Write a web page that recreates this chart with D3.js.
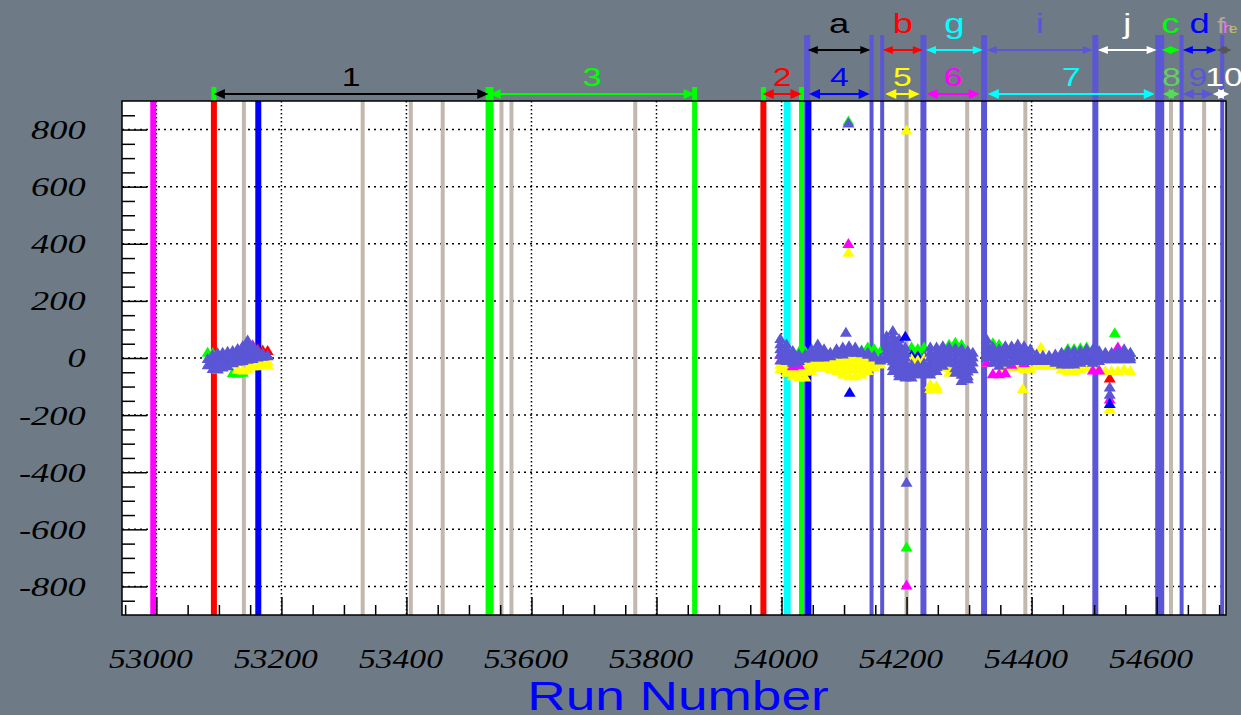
<!DOCTYPE html>
<html>
<head>
<meta charset="utf-8">
<script src="https://cdn.jsdelivr.net/npm/d3@7"></script>
<style>
body { margin: 0; background: #6e7b86; }
svg { display: block; }
</style>
</head>
<body>
<svg id="chart" width="1241" height="715"></svg>
<script>
// ---- data ----
let yTicks = [-800, -600, -400, -200, 0, 200, 400, 600, 800];
let xTicks = [53000, 53200, 53400, 53600, 53800, 54000, 54200, 54400, 54600];

// first block of runs: values seen at each run, per colour
let runsA = [53082, 53090, 53098, 53106, 53114, 53122, 53130, 53138, 53146, 53154, 53162, 53170, 53178];
let slateA = [[0, -22], [14, -5, -20, -35], [20, 2, -15, -35], [22, 5, -12, -30], [25, 8, -8, -25],
    [28, 10, -5, -15], [35, 18, 2, -10], [45, 28, 10, -7], [65, 45, 25, 8, -3], [45, 28, 12, 0],
    [30, 15, 5], [18, 8], [12, 10]];
let greenA = [[22], [20], [-38], [], [], [-50], [-52], [-48], [], [], [2], [], []];
let yellowA = [[], [], [], [], [], [], [-38], [-40], [-35], [-12, -25], [-12, -25], [-10, -22], [-8, -22]];
let magentaA = [[], [], [], [], [], [-12], [], [], [50], [48], [], [], []];
let redA = [[], [], [], [], [], [], [], [], [], [], [35], [30], [28]];
let blueA = [[], [], [], [], [], [], [], [], [], [10], [-10], [], []];

// second block of runs
let runsB = [53998, 54008, 54018, 54028, 54038, 54048, 54058, 54068, 54078, 54088,
    54098, 54108, 54118, 54128, 54138, 54148, 54158, 54168, 54178, 54188,
    54198, 54208, 54218, 54228, 54238, 54248, 54258, 54268, 54278, 54288,
    54298, 54306, 54328, 54338, 54348, 54358, 54368, 54378, 54388, 54398,
    54408, 54418, 54428, 54438, 54448, 54458, 54468, 54478, 54488, 54498,
    54508, 54518, 54528, 54538, 54548, 54558];
let slateB = [
    [70, 52, 34, 16, -5], [51, 34, 17, 0, -7], [28, 10, -13], [16, 0, -7], [16, 2],
    [34, 18, 5], [51, 34, 18, 5], [34, 18, 5], [22, 10], [34, 16],
    [40, 28, 16], [45, 32, 22], [40, 30, 22], [28, 20], [22, 15],
    [11, 5], [0, -5], [80, 62, 45, 28, 12, -1], [98, 80, 62, 45, 28, 10, -8, -25, -42], [69, 52, 35, 18, 0, -18, -35, -50, -60],
    [40, 22, 5, -12, -30, -48, -65], [-20, -35, -50, -65], [-22, -38, -54], [-15, -30, -42], [40, 22, 5, -12, -30, -45, -54],
    [40, 22, 5, -12, -28, -42], [45, 28, 10, -8, -24], [40, 22, 5, -13], [38, 20, 2, -15, -32, -48], [35, 18, 0, -18, -36, -55, -77],
    [28, 10, -8, -26, -44, -60, -71], [22, 5, -12, -36], [69, 52, 35, 18, 5], [42, 25, 8, -13], [34, 17, 0, -24],
    [45, 28, 12, -5, -13], [45, 28, 12, -7], [51, 34, 17, 0, -7], [45, 28, 12, -7], [34, 17, 0, -7],
    [16, 0, -7], [11, 0, -7], [11, 0, -7], [16, 0, -13], [22, 5, -10, -19],
    [28, 10, -5, -19], [28, 10, -5, -19], [28, 10, -5, -13], [34, 17, 0, -7], [34, 17, 0, -13],
    [28, 12, -7], [22, 8, -1], [22, 8, -1], [28, 12, -1], [34, 17, -1], [22, 8, -1]];
let yellowB = [
    [-20, -36], [-25, -48], [-30, -45, -60], [-25, -45, -65], [-20, -45, -65],
    [-15, -30, -42], [-15, -30], [-15, -30], [-5, -20, -36], [0, -20, -42],
    [0, -20, -38, -54], [5, -15, -35, -60], [5, -15, -35, -60], [5, -15, -35, -54], [0, -20, -42],
    [-12, -30], [-19], [], [], [],
    [-5], [0, -5], [-5], [0], [-90, -105],
    [-95, -105], [-30], [-30, -48], [-48], [],
    [], [], [-13], [], [],
    [-30], [-30], [-30], [-36], [-36],
    [-24], [-24], [-24], [-24], [-36],
    [-42], [-42], [-36], [-30], [-30],
    [-36], [-42], [-42], [-42], [-36], [-42]];
let magentaB = [
    [15], [], [-25], [-22], [], [], [], [], [], [],
    [], [], [], [], [], [], [], [], [], [],
    [], [], [], [], [], [], [], [], [], [],
    [], [], [-13], [-53], [-53], [-50], [-20], [], [-15], [],
    [], [], [], [], [], [], [], [], [], [-40],
    [-40], [], [], [40], [], []];
let greenB = [
    [], [], [], [25], [25], [], [], [], [], [],
    [], [], [], [30], [40], [35], [25], [], [], [],
    [30], [40, 20], [35, 15], [40], [], [], [], [50], [57], [50],
    [], [], [], [55], [50], [], [], [], [], [],
    [], [], [], [], [], [35], [35], [38], [40], [],
    [], [], [], [], [], [20]];
let blueB = [
    [], [], [], [], [], [], [], [], [], [],
    [], [], [], [], [], [], [], [], [], [],
    [], [12], [10], [], [], [], [], [], [], [],
    [], [], [], [], [], [], [], [], [], [],
    [], [], [], [], [], [], [], [], [], [],
    [], [], [], [], [], []];
let redB = [
    [], [], [], [], [], [], [], [30], [], [],
    [], [], [], [], [], [], [], [], [], [],
    [], [], [], [], [], [], [], [], [], [],
    [], [], [], [], [], [], [], [], [], [],
    [], [], [], [], [], [], [], [], [], [],
    [], [], [], [], [], []];

// isolated points
let slateOutRuns = [54103, 54107, 54200, 54525, 54525];
let slateOutVals = [92, 825, -433, -100, -125];
let greenOutRuns = [54107, 54200, 54533];
let greenOutVals = [832, -660, 90];
let magentaOutRuns = [54107, 54200, 54525];
let magentaOutVals = [403, -793, -142];
let yellowOutRuns = [54107, 54200, 54386, 54415, 54525];
let yellowOutVals = [372, 800, -105, 40, -175];
let blueOutRuns = [54109, 54198, 54525];
let blueOutVals = [-118, 78, -158];
let redOutRuns = [54525];
let redOutVals = [-68];

// run boundary lines
let tanRuns = [53140, 53330, 53407, 53458, 53552, 53568, 53766, 54200, 54297, 54390, 54623, 54676];
let magentaRuns = [52995];
let greenRuns = [53092, 53533, 53861, 53971, 54032];
let redRuns = [53092, 53971];
let blueRuns = [53163, 54043];
let cyanRuns = [54009];
let slateRuns = [54041, 54144, 54161, 54227, 54324, 54502, 54605, 54640, 54705];

// period arrows
let row1Labels = ['1', '3', '2', '4', '5', '6', '7', '8', '9', '10'];
let row1Start = [53092, 53533, 53970, 54044, 54166, 54232, 54330, 54610, 54642, 54690];
let row1End = [53531, 53861, 54032, 54141, 54221, 54317, 54597, 54637, 54690, 54716];
let row2Labels = ['a', 'b', 'g', 'i', 'j', 'c', 'd', 'e'];
let row2Start = [54042, 54162, 54231, 54328, 54506, 54608, 54642, 54696];
let row2End = [54142, 54226, 54322, 54498, 54600, 54637, 54696, 54720];

// ---- drawing ----
let SLATE = '#5a56d6';
let svg = d3.select('#chart');

let plotLeft = 122, plotRight = 1226, plotTop = 101, plotBottom = 615;

let xScale = d3.scaleLinear().domain([52945, 54711]).range([plotLeft, plotRight]);
let yScale = d3.scaleLinear().domain([-900, 900]).range([plotBottom, plotTop]);

svg.append('rect')
    .attr('width', 1241).attr('height', 715)
    .attr('fill', '#6e7b86');

svg.append('rect')
    .attr('x', plotLeft).attr('y', plotTop)
    .attr('width', plotRight - plotLeft).attr('height', plotBottom - plotTop)
    .attr('fill', '#ffffff');

// Grid
let grid = svg.append('g').attr('id', 'grid');
grid.selectAll('line.gx')
    .data(xTicks)
    .enter().append('line')
    .attr('class', 'gx')
    .attr('x1', d => xScale(d)).attr('x2', d => xScale(d))
    .attr('y1', plotTop).attr('y2', plotBottom)
    .attr('stroke', '#000').attr('stroke-width', 1.5)
    .attr('stroke-dasharray', '1.5,2.5');
grid.selectAll('line.gy')
    .data(yTicks)
    .enter().append('line')
    .attr('class', 'gy')
    .attr('x1', plotLeft).attr('x2', plotRight)
    .attr('y1', d => yScale(d)).attr('y2', d => yScale(d))
    .attr('stroke', '#000').attr('stroke-width', 1.5)
    .attr('stroke-dasharray', '2,4');

// Vertical run lines
function vLines(runs, color, width, top) {
    svg.append('g').selectAll('line')
        .data(runs)
        .enter().append('line')
        .attr('x1', d => xScale(d)).attr('x2', d => xScale(d))
        .attr('y1', top).attr('y2', plotBottom)
        .attr('stroke', color)
        .attr('stroke-width', typeof width === 'function' ? width : () => width);
}
vLines(slateRuns, SLATE, d => (d === 54605 ? 9 : (d === 54144 || d === 54161 || d === 54640 || d === 54705) ? 4 : 6), 35);
vLines(greenRuns, '#00ff00', d => (d === 53533 ? 8 : 5), 87);
vLines(tanRuns, '#c2b8ad', 4, plotTop);
vLines(magentaRuns, '#ff00ff', 6, plotTop);
vLines(redRuns, '#ff0000', 6, plotTop);
vLines(blueRuns, '#0000ff', 6, plotTop);
vLines(cyanRuns, '#00ffff', 7, plotTop);

// Markers: up-triangle centred on its box, like the original plotting tool
let tri = d3.symbol().type({
    draw: function (ctx) {
        ctx.moveTo(0, -5);
        ctx.lineTo(6, 5);
        ctx.lineTo(-6, 5);
        ctx.closePath();
    }
});
function drawPts(pts, color) {
    svg.append('g').selectAll('path')
        .data(pts)
        .enter().append('path')
        .attr('d', tri)
        .attr('transform', d => 'translate(' + xScale(d[0]) + ',' + yScale(d[1]) + ')')
        .attr('fill', color);
}
function columns(runs, cols, color) {
    let pts = [];
    runs.forEach((r, i) => cols[i].forEach(v => pts.push([r, v])));
    drawPts(pts, color);
}
function singles(runs, vals, color) {
    drawPts(runs.map((r, i) => [r, vals[i]]), color);
}
columns(runsA, redA, '#ff0000');
columns(runsB, redB, '#ff0000');
singles(redOutRuns, redOutVals, '#ff0000');
columns(runsA, greenA, '#00ff00');
columns(runsB, greenB, '#00ff00');
singles(greenOutRuns, greenOutVals, '#00ff00');
columns(runsA, blueA, '#0000ff');
columns(runsB, blueB, '#0000ff');
columns(runsA, yellowA, '#ffff00');
columns(runsB, yellowB, '#ffff00');
singles(yellowOutRuns, yellowOutVals, '#ffff00');
columns(runsA, magentaA, '#ff00ff');
columns(runsB, magentaB, '#ff00ff');
singles(magentaOutRuns, magentaOutVals, '#ff00ff');
columns(runsA, slateA, SLATE);
columns(runsB, slateB, SLATE);
singles(slateOutRuns, slateOutVals, SLATE);
singles(blueOutRuns, blueOutVals, '#0000ff');

// Frame
svg.append('rect')
    .attr('x', plotLeft).attr('y', plotTop)
    .attr('width', plotRight - plotLeft).attr('height', plotBottom - plotTop)
    .attr('fill', 'none').attr('stroke', '#000').attr('stroke-width', 1.5);

// Axes
let minorY = d3.range(-850, 900, 50).filter(d => d % 200 !== 0);
let minorX = d3.range(52950, 54711, 50).filter(d => d % 200 !== 0);

let yGroup = svg.append('g').attr('id', 'y-axis')
    .attr('transform', 'translate(' + plotLeft + ',0)');
yGroup.call(d3.axisLeft(yScale).tickValues(yTicks).tickSize(-25).tickPadding(28).tickFormat(d => String(d)));
let yMinor = svg.append('g').attr('transform', 'translate(' + plotLeft + ',0)');
yMinor.call(d3.axisLeft(yScale).tickValues(minorY).tickSize(-13).tickFormat(''));

let xGroup = svg.append('g').attr('id', 'x-axis')
    .attr('transform', 'translate(0,' + plotBottom + ')');
xGroup.call(d3.axisBottom(xScale).tickValues(xTicks).tickSize(-18).tickPadding(33).tickFormat(d => String(d)));
let xMinor = svg.append('g').attr('transform', 'translate(0,' + plotBottom + ')');
xMinor.call(d3.axisBottom(xScale).tickValues(minorX).tickSize(-10).tickFormat(''));

svg.selectAll('#x-axis .domain, #y-axis .domain').remove();
yMinor.select('.domain').remove();
xMinor.select('.domain').remove();
svg.selectAll('.tick line').attr('stroke', '#000').attr('stroke-width', 1.5);

yGroup.selectAll('text')
    .attr('transform', 'scale(1.3,1)')
    .style('font-family', '"Liberation Serif", serif')
    .style('font-style', 'italic')
    .style('font-size', '28px')
    .style('fill', '#000');
xGroup.selectAll('text')
    .attr('transform', 'scale(1.2,1)')
    .attr('dx', -5)
    .style('font-family', '"Liberation Serif", serif')
    .style('font-style', 'italic')
    .style('font-size', '28px')
    .style('fill', '#000');

// Axis title
svg.append('text')
    .text('Run Number')
    .attr('transform', 'translate(678,710) scale(1.33,1)')
    .attr('text-anchor', 'middle')
    .style('fill', '#0000ff')
    .style('font-size', '40px')
    .style('font-family', '"Liberation Sans", Arial, sans-serif');

// Arrows
function arrow(x1, x2, y, color, hl, hw) {
    let g = svg.append('g');
    g.append('line')
        .attr('x1', x1 + 2).attr('x2', x2 - 2).attr('y1', y).attr('y2', y)
        .attr('stroke', color).attr('stroke-width', 2);
    g.append('path')
        .attr('d', 'M' + x1 + ',' + y + 'L' + (x1 + hl) + ',' + (y - hw) + 'L' + (x1 + hl) + ',' + (y + hw) + 'Z')
        .attr('fill', color);
    g.append('path')
        .attr('d', 'M' + x2 + ',' + y + 'L' + (x2 - hl) + ',' + (y - hw) + 'L' + (x2 - hl) + ',' + (y + hw) + 'Z')
        .attr('fill', color);
}
function label(txt, x, y, color, size) {
    svg.append('text')
        .text(txt)
        .attr('transform', 'translate(' + x + ',' + y + ') scale(1.3,1)')
        .attr('text-anchor', 'middle')
        .style('fill', color)
        .style('font-size', size + 'px')
        .style('font-family', '"Liberation Sans", Arial, sans-serif');
}

let row1Colors = ['#000000', '#00ff00', '#ff0000', '#0000ff', '#ffff00', '#ff00ff', '#00ffff', '#55dd55', SLATE, '#ffffff'];
let row1Text = ['#000000', '#00ff00', '#ff0000', '#0000ff', '#ffff00', '#ff00ff', '#00ffff', '#66cc66', SLATE, '#ffffff'];
row1Labels.forEach((t, i) => {
    let x1 = xScale(row1Start[i]), x2 = xScale(row1End[i]);
    arrow(x1, x2, 94, row1Colors[i], 11, 5);
    label(t, (x1 + x2) / 2 + (t === '10' ? 3 : 0), 86, row1Text[i], 26);
});

let row2Colors = ['#000000', '#ff0000', '#00ffff', SLATE, '#ffffff', '#00ff00', '#0000ff', '#555555'];
row2Labels.forEach((t, i) => {
    let x1 = xScale(row2Start[i]), x2 = xScale(row2End[i]);
    arrow(x1, x2, 50, row2Colors[i], 10, 4);
    if (t !== 'e') label(t, (x1 + x2) / 2, 33, row2Colors[i], 28);
});
// crowded tiny labels at the far right
label('f', 1221, 33, '#b0a89e', 22);
label('h', 1228, 33, '#ff66ff', 14);
label('e', 1233, 33, '#aacc44', 12);
</script>
</body>
</html>
